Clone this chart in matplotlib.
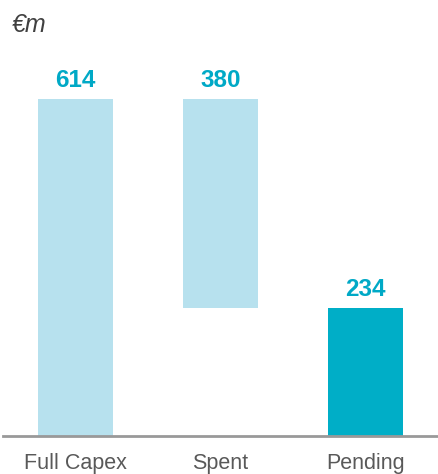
import matplotlib
matplotlib.use("Agg")
import matplotlib.pyplot as plt

categories = ["Full Capex", "Spent", "Pending"]
values = [614, 380, 234]
bottoms = [0, 234, 0]
labels = ["614", "380", "234"]
colors = ["#b7e1ee", "#b7e1ee", "#00aec7"]

plt.rcParams['font.family'] = ['Liberation Sans', 'DejaVu Sans']

W, H = 438, 474
fig = plt.figure(figsize=(W/100, H/100), dpi=100)
ax = fig.add_axes([3/W, (H-436)/H, 435/W, 337/H])
x = list(range(len(categories)))
ax.bar(x, values, bottom=bottoms, width=0.52, color=colors)
ax.set_xlim(-0.5, 2.5)
ax.set_ylim(0, 614)
for s in ["top", "right", "left"]:
    ax.spines[s].set_visible(False)
ax.spines["bottom"].set_color("#999999")
ax.spines["bottom"].set_linewidth(2)
ax.set_xticks([])
ax.set_yticks([])

for xi, b, v, lab in zip(x, bottoms, values, labels):
    ax.annotate(lab, (xi, b + v), xytext=(0, 12), textcoords="offset pixels",
                ha="center", va="baseline", fontsize=17.5, fontweight="bold",
                color="#00a9c6", annotation_clip=False)
for xi, c in zip(x, categories):
    ax.annotate(c, (xi, 0), xytext=(0, -33), textcoords="offset pixels",
                ha="center", va="baseline", fontsize=15.5, color="#595959",
                annotation_clip=False)

fig.text(12/W, 1 - 32/H, "€m", fontsize=18, style="italic", color="#404040",
         va="baseline", ha="left")

fig.savefig("out.png", dpi=100)
